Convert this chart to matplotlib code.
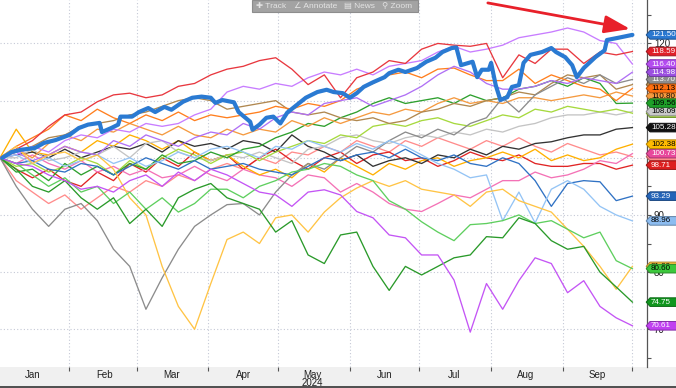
import datetime as dt
import matplotlib
matplotlib.use("Agg")
import matplotlib.pyplot as plt
import matplotlib.dates as mdates
import matplotlib.colors as mcolors
from matplotlib.path import Path
from matplotlib.patches import Rectangle
from matplotlib.lines import Line2D
from matplotlib import font_manager

# ---------------- data ----------------
year_start = dt.datetime(2024, 1, 1)
# weekly sampling (days after Jan 1, 2024)
week_days = list(range(1, 268, 7)) + [274]

red_top = [100, 101.5, 103, 105.5, 107.5, 108, 109.8, 111, 111.3, 110.5,
           111, 112.5, 113, 114.5, 115.5, 116, 117, 117.5, 115.5, 112.8,
           114.5, 110.5, 114, 115, 117, 116.5, 119, 120, 119.7, 119.5,
           120, 114, 118, 116.5, 119, 119, 116.5, 118.5, 118, 118.59]
violet_top = [100, 100.5, 102, 101, 103, 104, 103.5, 105, 104.5, 106,
              105.5, 106, 107.5, 108.5, 111.5, 112.5, 112, 113, 112.5, 114,
              115, 114.5, 115.5, 114.5, 116, 116.5, 117, 118.5, 119.5, 118.5,
              119, 119.7, 121, 121.5, 122, 122.7, 122, 120.5, 120, 116.40]
violet_mid = [100, 101, 99.5, 100.5, 102, 101, 100.5, 103, 102, 104,
              103, 102, 103.5, 104.5, 104, 106, 105, 107, 108, 107.5,
              109.5, 110, 110.5, 109, 110, 111, 112.5, 114.5, 116, 115,
              113, 112, 112, 112.5, 113.5, 113, 114, 113.5, 113, 114.98]
orange_a = [100, 102, 103.5, 105, 107.5, 106.5, 108.5, 107, 106, 107.5,
            106.5, 108, 106.5, 107.5, 107, 107.5, 108, 109, 108.5, 109.5,
            109, 110, 112, 113, 114.5, 115, 114, 115.5, 115.7, 114.5,
            113.5, 113.5, 115.5, 113, 114.5, 113.5, 112.5, 112, 110, 112.13]
orange_b = [100, 101.5, 100, 102.5, 104, 103, 105, 104.5, 106, 105,
            104, 105.5, 104, 103.5, 105, 104, 105, 104.5, 106.5, 105.5,
            107, 106, 107, 108, 107.5, 108.5, 108, 109.5, 110.5, 109.5,
            110, 109.5, 110.5, 110.5, 110, 110.5, 111, 110.5, 111.5, 110.8]
brown = [100, 101, 102, 103.5, 104, 105.5, 106, 106.5, 107.5, 108,
         109, 110, 110.5, 110, 108.5, 109, 109.5, 110, 108, 107.5,
         108, 107, 106.5, 107, 106, 106.5, 108, 108.5, 109.5, 109,
         110, 110.5, 111.5, 111, 113, 114.5, 114, 114.5, 112, 112.8]
gray_dip = [100, 95, 91, 88, 91, 92, 89, 84, 81, 73.5,
            79, 84, 88, 90, 91.8, 92, 90, 94, 97, 99,
            98, 100, 102, 101, 103, 104.5, 103.5, 105, 104, 106,
            107, 110.5, 108, 111, 112.5, 114, 113, 114.5, 113, 113.7]
green = [100, 97.5, 98, 96, 99, 97, 98.5, 97, 99, 98,
         100.5, 99, 99.5, 101, 100, 101.5, 102, 103.5, 104.5, 106,
         105.5, 107, 108, 109.5, 110.5, 109.5, 110, 110.5, 109.5, 111,
         110, 110.5, 112, 112.5, 113.5, 112.5, 114, 113, 109.5, 109.56]
light_gray = [100, 100, 101.5, 99.5, 100, 101, 100.5, 102, 100, 102.5,
              103, 101, 100, 99.5, 100.5, 100, 101, 100, 99, 101.5,
              102, 103.5, 104, 103, 102.5, 103.5, 104, 103.5, 104.5, 104,
              105, 104.5, 105.5, 106, 107, 107.5, 107.5, 108, 107.5, 108.09]
yellow_green = [100, 98.5, 99, 97.5, 98.5, 100, 99, 97, 99.5, 98,
                100, 101.5, 100.5, 99, 100.5, 101, 99.5, 101, 102, 103,
                102.5, 104, 103.5, 105.5, 106, 105.5, 106.5, 107, 106, 105.5,
                106.5, 107.5, 107, 108.5, 108, 109, 108.5, 108, 108.5, 107.8]
black = [100, 100.5, 101, 100, 101.5, 100, 101, 102, 101.5, 102.5,
         101, 103, 102, 102.5, 101.5, 103, 102.5, 101, 104, 102,
         101, 99.5, 100.5, 98.5, 99.5, 100, 99, 100.5, 100, 101.5,
         100.5, 102, 101.5, 102.5, 102.8, 103.5, 104, 104, 105, 105.28]
gold = [100, 105, 101, 100.5, 102, 101, 103, 102, 104, 103,
        101.5, 103, 101, 99.5, 100.5, 98.5, 97, 98, 96.5, 99,
        97.5, 100, 98.5, 97, 99, 98, 99.5, 100, 98.5, 99.5,
        100, 101, 100, 101.5, 99.5, 100.5, 99.5, 100, 101.5, 102.38]
pink = [100, 99, 100.5, 99, 98, 99.5, 97.5, 98.5, 97, 98,
        96.5, 97, 98.5, 97, 96, 98, 97, 96.5, 95, 97,
        96.5, 94, 95.5, 94, 92, 91, 90.6, 92, 93.5, 93,
        94.5, 96, 96, 97.5, 96.5, 97, 98, 99.5, 99, 100.73]
red_low = [100, 98, 96.5, 98, 96, 95, 97.5, 96, 99, 97.5,
           100, 98.5, 101, 99.5, 100.5, 98, 100, 101.5, 99.5, 98,
           100, 101, 99, 100.5, 101, 99.5, 100, 98.5, 99.5, 101,
           100, 99.5, 100.5, 99, 98.5, 98.5, 99, 99, 98, 98.71]
salmon = [100, 96, 94, 92, 93.5, 91, 93, 95, 94, 96,
          95, 97, 96, 98, 99, 98, 100, 99, 101, 100.5,
          102, 101, 103, 102, 101, 103, 102, 103.5, 102.5, 101.5,
          103, 102, 103.5, 102, 101, 102.5, 101.5, 100.5, 101, 100.2]
steel_blue = [100, 99, 99.5, 98, 97.5, 99, 98.5, 97, 98.5, 100,
              99, 98, 99.5, 98, 98.5, 99, 98, 97.5, 97, 98.5,
              100, 99.5, 100.5, 101, 100, 101.5, 100, 99.5, 100.5, 99,
              98.5, 100, 99, 96, 91.5, 95.5, 96, 95.8, 92.5, 93.29]
light_blue = [100, 100.5, 99, 100, 98.5, 99.5, 100.5, 99, 100, 98.5,
              99.5, 101, 100, 101.5, 102, 101, 100, 102, 101.5, 103,
              102, 101, 102.5, 101.5, 103, 102, 100.5, 99, 98, 96.5,
              97, 89, 94, 88.6, 94.5, 96, 94.5, 91.5, 90, 88.96]
yellow_dip = [100, 102, 99, 100.5, 101, 99.5, 100.5, 98, 93, 90,
              81, 74, 70, 78, 85.7, 87, 85, 89.5, 90, 87,
              90.5, 93, 94.7, 96, 95, 96, 94.5, 94, 93.5, 91.5,
              94, 94.5, 92.5, 91.5, 90.5, 87.5, 84.5, 81, 77, 81]
light_green = [100, 99, 97, 95, 96.5, 94, 95, 92, 94, 91,
               93, 90.5, 92, 94.5, 94.5, 93, 95, 96, 97.5, 98,
               99, 98.5, 97, 96, 92.5, 91, 88.8, 87, 85.5, 88.3,
               88.5, 89, 90, 88.5, 89, 87.5, 86, 87, 82, 80.60]
dark_green = [100, 98, 95, 94, 96, 93, 91, 93, 88.5, 91,
              88, 93, 94.5, 95.5, 93, 92, 91, 87, 89, 83,
              81.5, 86.5, 87, 81, 76.8, 81, 79.5, 81, 82.5, 83,
              86.2, 86, 89.5, 88.5, 85.5, 84, 84.5, 80, 77.4, 74.75]
violet_low = [100, 99, 98.5, 97, 96, 94.5, 95, 94, 96, 97,
              95, 97.5, 96, 98, 97, 95.5, 94, 93.5, 91.5, 94,
              94.4, 93.5, 90.6, 89.5, 86.5, 86, 83, 83, 78.6, 69.5,
              78, 73.5, 78.5, 82.5, 81.5, 76.4, 78.5, 74, 72, 70.61]

# highlighted series (finer sampling)
blue_days = [2, 6, 10, 16, 20, 25, 31, 35, 39, 44, 45, 49, 52, 53, 58, 61, 65, 68,
             72, 75, 80, 84, 88, 92, 94, 97, 102, 104, 109, 110, 113, 116, 119,
             122, 125, 129, 133, 138, 142, 145, 149, 152, 155, 158, 162, 167, 169,
             173, 176, 181, 185, 189, 192, 196, 198, 200, 205, 207, 209, 212, 213,
             215, 217, 220, 222, 225, 227, 230, 235, 239, 241, 245, 248, 250, 253,
             258, 262, 263, 268, 274]
blue_vals = [100, 101, 101.4, 101.7, 102.6, 103.1, 104, 105.2, 105.8, 106.1, 104.5,
             105.2, 105.8, 107.2, 107.2, 108, 108.7, 108, 108.9, 108.4, 109.8, 110.5,
             110.7, 110.5, 109.6, 110.1, 109.7, 108, 106.3, 104.9, 105.8, 107, 107.2,
             106, 107.9, 109.2, 110.5, 111.5, 111.9, 111.5, 111.3, 110.5, 111.3, 112.4,
             113.2, 114.1, 114.8, 115.4, 115, 115.7, 116.8, 117.5, 118.5, 119.2, 119.3,
             116.2, 116.8, 114.1, 115.4, 115.4, 116.6, 112.7, 110.1, 110.6, 112.4, 112.7,
             116.6, 118, 118.5, 119.2, 118.5, 117.6, 116.2, 114.1, 115.7, 117.6, 118.8,
             120.6, 121, 121.5]

year_label = "2024"
toolbar_items = ["\u271A Track", "\u2220 Annotate", "\u25A4 News", "\u26B2 Zoom"]

# (values, line colour, tag face colour, tag text colour)
series = [
    (salmon, "#ff8c8c", "#ff8c8c", "white"),
    (red_low, "#e02525", "#dd1f1f", "white"),
    (pink, "#f472b6", "#e8489c", "white"),
    (gold, "#ffb000", "#ffbb00", "black"),
    (black, "#333333", "#111111", "white"),
    (light_gray, "#c4c4c4", "#c8c8c8", "black"),
    (yellow_green, "#a6d93e", "#a6d93e", "black"),
    (green, "#2ea02e", "#1ea028", "black"),
    (orange_b, "#f59a40", "#f59a40", "black"),
    (brown, "#b08850", "#b08850", "white"),
    (gray_dip, "#8c8c8c", "#8c8c8c", "white"),
    (orange_a, "#ff7f1e", "#ff7010", "black"),
    (violet_mid, "#b070f5", "#9b4fe0", "white"),
    (violet_top, "#c87dff", "#b44cf0", "white"),
    (red_top, "#e8383f", "#e01e28", "white"),
    (steel_blue, "#3072c4", "#2464b8", "white"),
    (light_blue, "#94c4f5", "#8cbcf0", "black"),
    (yellow_dip, "#ffc445", "#ffc040", "black"),
    (light_green, "#5fcf5f", "#3cc83c", "black"),
    (dark_green, "#2a9a2a", "#10961e", "white"),
    (violet_low, "#c455f5", "#c040f0", "white"),
]
hidden_tags = [salmon, yellow_green, orange_b, brown, gray_dip, yellow_dip]

# ---------------- fonts ----------------
avail = {f.name for f in font_manager.fontManager.ttflist}
main_font = "Liberation Sans" if "Liberation Sans" in avail else "DejaVu Sans"
plt.rcParams["font.family"] = [main_font, "DejaVu Sans"]

W, H = 676, 388
fig = plt.figure(figsize=(W / 100, H / 100), dpi=100, facecolor="white")
# bottom grey band (behind the axes)
fig.patches.append(Rectangle((0, 0), 1, 21 / H, transform=fig.transFigure,
                             facecolor="#f0f0f0", edgecolor="none", zorder=-5))
fig.add_artist(Line2D([0, 1], [0.8 / H, 0.8 / H], color="#333333", lw=1.2))

ax = fig.add_axes([0, 21 / H, 647 / W, 367 / H])
ax.set_facecolor("white")

def to_dates(days):
    return [year_start + dt.timedelta(days=d) for d in days]

wd = to_dates(week_days)
for vals, lc, fc, tc in series:
    ax.plot(wd, vals, color=lc, lw=0.95, solid_joinstyle="round", zorder=3)
ax.plot(to_dates(blue_days), blue_vals, color="#2a7ad2", lw=3.0,
        solid_joinstyle="round", solid_capstyle="round", zorder=5)

# axes limits / scales
ax.set_xlim(year_start + dt.timedelta(days=1), year_start + dt.timedelta(days=280.3))
ax.set_ylim(63.4, 127.6)

ax.xaxis.set_major_locator(mdates.MonthLocator())
ax.xaxis.set_major_formatter(plt.NullFormatter())
ax.xaxis.set_minor_locator(mdates.MonthLocator(bymonthday=16))
ax.xaxis.set_minor_formatter(mdates.DateFormatter("%b"))
ax.tick_params(axis="x", which="major", length=3, width=0.8, color="#555555", direction="out")
ax.tick_params(axis="x", which="minor", length=0, pad=2.5, labelsize=7, labelcolor="#222222")

ax.yaxis.tick_right()
ax.set_yticks([70, 80, 90, 100, 110, 120])
ax.set_yticks([65, 75, 85, 95, 105, 115, 125], minor=True)
ax.tick_params(axis="y", which="both", length=3, width=0.8, color="#555555",
               labelsize=7, labelcolor="#222222", pad=2)

ax.grid(True, which="major", color="#c5c9d6", lw=0.8, linestyle=(0, (1, 2)))
for s in ("left", "top", "bottom"):
    ax.spines[s].set_visible(False)
ax.spines["right"].set_color("#555555")
ax.spines["right"].set_linewidth(0.9)

# year label
fig.text(312.8 / W, 5 / H, year_label, ha="center", va="center", fontsize=7, color="#222222")

# ---------------- value tags ----------------
# choose a tag font size so that "000.00" is about 24.5 px wide
renderer = fig.canvas.get_renderer()
probe = fig.text(0, 0, "121.50", fontsize=10)
probe_w = probe.get_window_extent(renderer).width
probe.remove()
tag_fs = min(7.0, 10 * 24.5 / probe_w)

def tag_box(x0, y0, width, height, mutation_size):
    padx = 0.12 * mutation_size
    pady = 0.10 * mutation_size
    x0 -= padx
    y0 -= pady
    w = width + 2 * padx + 20
    h = height + 2 * pady
    x1, y1 = x0 + w, y0 + h
    tip = h * 0.45
    verts = [(x0, y0), (x1, y0), (x1, y1), (x0, y1), (x0 - tip, y0 + h / 2), (x0, y0), (x0, y0)]
    return Path(verts, closed=True)

def darker(c, f=0.7):
    r, g, b = mcolors.to_rgb(c)
    return (r * f, g * f, b * f)

def add_tag(vals, fc, tc, z):
    v = vals[-1]
    ax.annotate(f"{v:.2f}", xy=(1, v), xycoords=("axes fraction", "data"),
                xytext=(4, 0), textcoords="offset pixels", ha="left", va="center",
                fontsize=tag_fs, color=tc, annotation_clip=False, zorder=z,
                bbox=dict(boxstyle=tag_box, fc=fc, ec=darker(fc), lw=0.7))

z = 10
for vals, lc, fc, tc in series:
    if any(vals is h for h in hidden_tags):
        add_tag(vals, fc, tc, z)
        z += 0.01
for vals, lc, fc, tc in series:
    if not any(vals is h for h in hidden_tags):
        add_tag(vals, fc, tc, z)
        z += 0.01
add_tag(blue_vals, "#2a78d0", "white", z + 1)

# ---------------- annotation arrow ----------------
ax.annotate("", xy=(0.974, 0.921), xytext=(0.754, 0.992), xycoords="axes fraction",
            arrowprops=dict(arrowstyle="-|>,head_length=1.3,head_width=0.45",
                            color="#e8202a", lw=2.0, mutation_scale=12,
                            shrinkA=0, shrinkB=0), zorder=20, annotation_clip=False)

# ---------------- toolbar ----------------
fig.patches.append(Rectangle((252 / W, (H - 12) / H), 166 / W, 12 / H, transform=fig.transFigure,
                             facecolor="#a3a3a3", edgecolor="#8d8d8d", lw=0.8, zorder=30))
for xp, txt in zip([256, 294, 344, 382], toolbar_items):
    fig.text(xp / W, (H - 6.5) / H, txt, ha="left", va="center", fontsize=6,
             color="#e4e4e4", zorder=31, family=[main_font, "DejaVu Sans"])

fig.savefig("out.png", dpi=100, facecolor="white")
